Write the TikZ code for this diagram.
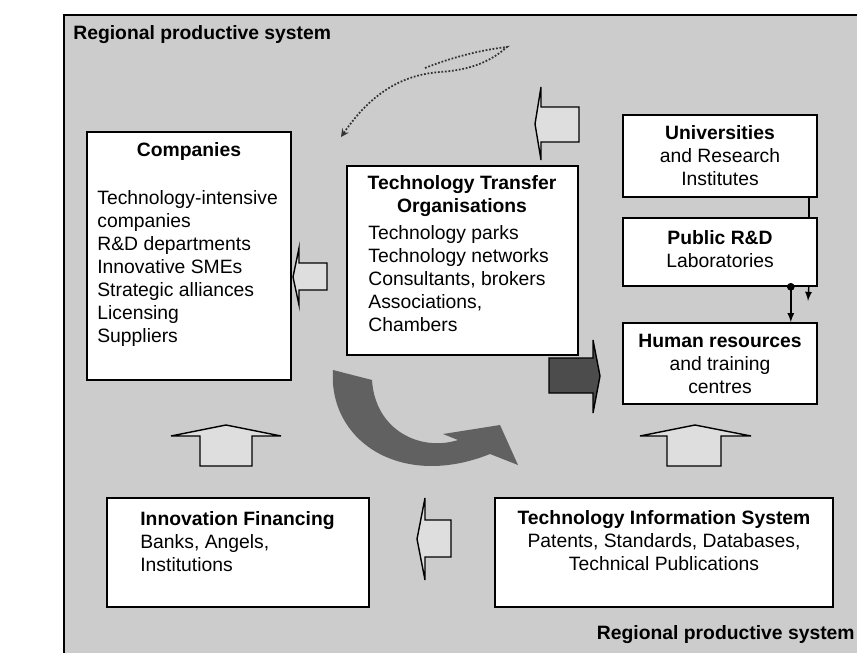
\documentclass[tikz,border=0pt]{standalone}
\usepackage{fontspec}
\setmainfont{Liberation Sans}
\usetikzlibrary{fit}

\tikzset{
    box/.style={draw,line width=0.9pt,fill=white,inner sep=0pt},
    txt/.style={inner sep=0pt,font=\fontsize{11}{13.1}\selectfont},
    title/.style={inner sep=0pt,font=\fontsize{11}{13.1}\selectfont\bfseries},
    fat/.style={draw,line width=0.8pt,fill=black!13},
}

\begin{document}
\begin{tikzpicture}[x=0.02cm,y=-0.02cm]
    \useasboundingbox (0,0) rectangle (857,652);
    \clip (0,0) rectangle (857,652);
    % regional frame
    \filldraw[fill=black!20,line width=0.8pt] (64,15) rectangle (890,690);
    \node[title,anchor=west] (rtop) at (73,35) {Regional productive system};
    \node[title,anchor=east] (rbot) at (855,635) {Regional productive system};

    % boxes
    \node[box,fit={(87,132) (291,380)}] (comp) {};
    \node[box,fit={(347,166) (578,355)}] (tto) {};
    \node[box,fit={(623,115) (817,197)}] (univ) {};
    \node[box,fit={(623,218) (817,286)}] (pub) {};
    \node[box,fit={(623,323) (817,404)}] (hr) {};
    \node[box,fit={(107,498) (369,607)}] (fin) {};
    \node[box,fit={(495,498) (833,607)}] (tis) {};

    % texts
    \node[title] (compt) at (189,152) {Companies};
    \node[txt,anchor=north west,align=left] (compl) at (97,190) {Technology-intensive\\companies\\R\&D departments\\Innovative SMEs\\Strategic alliances\\Licensing\\Suppliers};
    \node[title,align=center] (ttot) at (462,196) {Technology Transfer\\Organisations};
    \node[txt,anchor=north west,align=left] (ttol) at (368,225) {Technology parks\\Technology networks\\Consultants, brokers\\Associations,\\Chambers};
    \node[txt,align=center] (univt) at (720,156) {\textbf{Universities}\\and Research\\Institutes};
    \node[txt,align=center] (pubt) at (720,249) {\textbf{Public R\&D}\\Laboratories};
    \node[txt,align=center] (hrt) at (720,364) {\textbf{Human resources}\\and training\\centres};
    \node[txt,anchor=north west,align=left] (fint) at (140,511) {\textbf{Innovation Financing}\\Banks, Angels,\\Institutions};
    \node[txt,align=center] (tist) at (664,541) {\textbf{Technology Information System}\\Patents, Standards, Databases,\\Technical Publications};

    % thin links on the right
    \draw[line width=0.8pt] ([xshift=-0.18cm]univ.south east) -- ([xshift=-0.18cm]pub.north east);
    \fill ([xshift=-0.54cm]pub.south east) circle (2.2pt);
    \draw[line width=0.8pt,-latex] ([xshift=-0.54cm]pub.south east) -- ([xshift=-0.54cm]hr.north east);
    \coordinate (tip) at (808,301);
    \draw[line width=0.8pt,-latex] ([xshift=-0.18cm]pub.south east) -- (tip);

    % dotted loop
    \draw[densely dotted,line width=1pt,black!80,>=stealth,<-] (341,137) .. controls (370,95) and (400,75) .. (440,72)
        .. controls (470,70) and (490,62) .. (507,47) .. controls (480,50) and (450,58) .. (425,68);

    % block arrows
    \filldraw[fat] (327,263) -- (299,263) -- (299,248) -- (293,277) -- (299,305) -- (299,290) -- (327,290) -- cycle;
    \filldraw[fat] (579,107) -- (541,107) -- (541,87) -- (535,124) -- (541,160) -- (541,142) -- (579,142) -- cycle;
    \filldraw[fat] (451,520) -- (425,520) -- (425,498) -- (417,539) -- (425,580) -- (425,557) -- (451,557) -- cycle;
    \filldraw[fat] (200,466) -- (200,436) -- (171,436) -- (226,425) -- (281,436) -- (252,436) -- (252,466) -- cycle;
    \filldraw[fat] (667,466) -- (667,436) -- (640,436) -- (695,425) -- (751,436) -- (721,436) -- (721,466) -- cycle;
    \filldraw[fat,fill=black!70] (549,358) -- (593,358) -- (593,340) -- (600,376) -- (593,413) -- (593,393) -- (549,393) -- cycle;

    % curved arrow
    \fill[black!62] (333,370) .. controls (328,440) and (400,490) .. (490,454) -- (518,465) -- (500,425) -- (443,434)
        -- (458,440) .. controls (420,452) and (375,430) .. (372,380) -- cycle;
\end{tikzpicture}
\end{document}
